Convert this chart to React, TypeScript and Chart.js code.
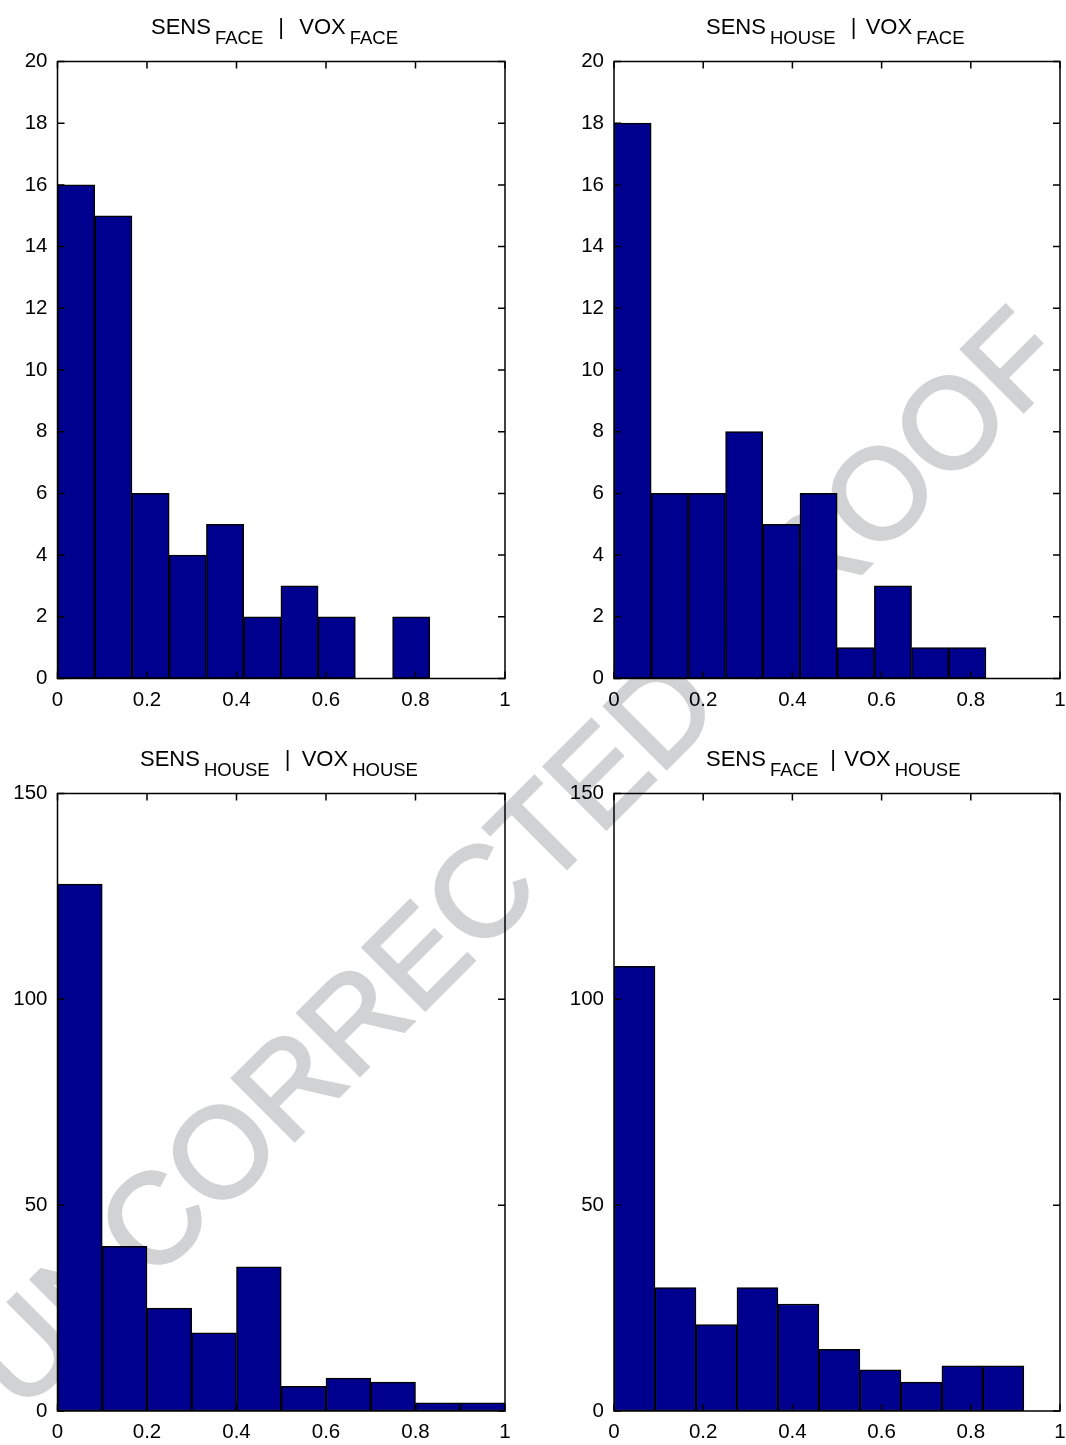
import React, { useEffect, useRef } from "react";
import { Chart, registerables } from "chart.js";

Chart.register(...registerables);

// ---------- data ----------
const faceFaceCounts = [16, 15, 6, 4, 5, 2, 3, 2, 0, 2];
const faceFaceBinWidth = 0.0832;
const houseFaceCounts = [18, 6, 6, 8, 5, 6, 1, 3, 1, 1];
const houseFaceBinWidth = 0.0834;
const houseHouseCounts = [128, 40, 25, 19, 35, 6, 8, 7, 2, 2];
const houseHouseBinWidth = 0.1;
const faceHouseCounts = [108, 30, 21, 30, 26, 15, 10, 7, 11, 11];
const faceHouseBinWidth = 0.0919;

const xTickValues = [0, 0.2, 0.4, 0.6, 0.8, 1];
const yTickValuesTop = [0, 2, 4, 6, 8, 10, 12, 14, 16, 18, 20];
const yTickValuesBottom = [0, 50, 100, 150];

const titleFaceFace = ["SENS", "FACE", "VOX", "FACE"];
const titleHouseFace = ["SENS", "HOUSE", "VOX", "FACE"];
const titleHouseHouse = ["SENS", "HOUSE", "VOX", "HOUSE"];
const titleFaceHouse = ["SENS", "FACE", "VOX", "HOUSE"];

const watermarkText = "UNCORRECTED PROOF";

// ---------- style ----------
const FONT = "'Liberation Sans', Arial, Helvetica, sans-serif";
const BAR_FILL = "#00008f";
const TICK_FONT_SIZE = 20.5;
const WATERMARK_COLOR = "#d1d2d4";

type Panel = {
  counts: number[];
  binWidth: number;
  yTicks: number[];
  title: string[];
  left: number;
  top: number;
  width: number;
  height: number;
  plotLeft: number;
  padRight: number;
  padTop: number;
  bottomH: number;
  titleStart: number;
  gapBar: number;
  gapVox: number;
};

const panels: Panel[] = [
  {
    counts: faceFaceCounts, binWidth: faceFaceBinWidth, yTicks: yTickValuesTop, title: titleFaceFace,
    left: 0, top: 0, width: 533, height: 722,
    plotLeft: 57.5, padRight: 28, padTop: 61.5, bottomH: 43.5,
    titleStart: 93.5, gapBar: 18, gapVox: 18,
  },
  {
    counts: houseFaceCounts, binWidth: houseFaceBinWidth, yTicks: yTickValuesTop, title: titleHouseFace,
    left: 533, top: 0, width: 543, height: 722,
    plotLeft: 81, padRight: 16, padTop: 61.5, bottomH: 43.5,
    titleStart: 92, gapBar: 18, gapVox: 12,
  },
  {
    counts: houseHouseCounts, binWidth: houseHouseBinWidth, yTicks: yTickValuesBottom, title: titleHouseHouse,
    left: 0, top: 722, width: 533, height: 723,
    plotLeft: 57.5, padRight: 28, padTop: 71.5, bottomH: 34,
    titleStart: 82.5, gapBar: 18, gapVox: 14,
  },
  {
    counts: faceHouseCounts, binWidth: faceHouseBinWidth, yTicks: yTickValuesBottom, title: titleFaceHouse,
    left: 533, top: 722, width: 543, height: 723,
    plotLeft: 81, padRight: 16, padTop: 71.5, bottomH: 34,
    titleStart: 92, gapBar: 15, gapVox: 11,
  },
];

function HistPanel({ p }: { p: Panel }) {
  const ref = useRef<HTMLCanvasElement | null>(null);
  useEffect(() => {
    if (!ref.current) return;
    const data = p.counts.map((c, i) => ({ x: (i + 0.5) * p.binWidth, y: c }));
    const framePlugin = {
      id: "frame",
      afterDatasetsDraw(chart: any) {
        const { ctx, chartArea: a, scales } = chart;
        const xs = scales.x;
        const ys = scales.y;
        ctx.save();
        ctx.strokeStyle = "#000";
        ctx.lineWidth = 1.5;
        ctx.strokeRect(a.left, a.top, a.right - a.left, a.bottom - a.top);
        const L = 7;
        ctx.beginPath();
        xs.ticks.forEach((t: any) => {
          const px = xs.getPixelForValue(t.value);
          ctx.moveTo(px, a.bottom);
          ctx.lineTo(px, a.bottom - L);
          ctx.moveTo(px, a.top);
          ctx.lineTo(px, a.top + L);
        });
        ys.ticks.forEach((t: any) => {
          const py = ys.getPixelForValue(t.value);
          ctx.moveTo(a.left, py);
          ctx.lineTo(a.left + L, py);
          ctx.moveTo(a.right, py);
          ctx.lineTo(a.right - L, py);
        });
        ctx.stroke();

        // title
        const base = a.top - 27.6;
        ctx.fillStyle = "#000";
        ctx.textBaseline = "alphabetic";
        ctx.textAlign = "left";
        let x = a.left + p.titleStart;
        ctx.font = `22px ${FONT}`;
        ctx.fillText(p.title[0], x, base);
        x += ctx.measureText(p.title[0]).width + 4;
        ctx.font = `18.5px ${FONT}`;
        ctx.fillText(p.title[1], x, base + 10);
        x += ctx.measureText(p.title[1]).width + p.gapBar;
        ctx.font = `22px ${FONT}`;
        ctx.textAlign = "center";
        ctx.fillText("|", x, base);
        x += p.gapVox;
        ctx.textAlign = "left";
        ctx.fillText(p.title[2], x, base);
        x += ctx.measureText(p.title[2]).width + 4;
        ctx.font = `18.5px ${FONT}`;
        ctx.fillText(p.title[3], x, base + 10);
        ctx.restore();
      },
    };

    const chart = new Chart(ref.current, {
      type: "bar",
      data: {
        datasets: [
          {
            data: data as any,
            backgroundColor: BAR_FILL,
            borderColor: "#000",
            borderWidth: 1.5,
            borderSkipped: false,
            barPercentage: 1,
            categoryPercentage: 1,
          },
        ],
      },
      options: {
        responsive: false,
        animation: false,
        devicePixelRatio: 1,
        layout: { padding: { top: p.padTop, right: p.padRight, left: 0, bottom: 0 } },
        plugins: { legend: { display: false }, tooltip: { enabled: false }, title: { display: false } },
        scales: {
          x: {
            type: "linear",
            offset: false,
            min: 0,
            max: 1,
            grid: { display: false, drawTicks: false, offset: false },
            border: { display: false },
            afterBuildTicks: (s: any) => {
              s.ticks = xTickValues.map((v) => ({ value: v }));
            },
            afterFit: (s: any) => {
              s.height = p.bottomH;
            },
            ticks: {
              autoSkip: false,
              maxRotation: 0,
              padding: 9.5,
              color: "#000",
              font: { family: FONT, size: TICK_FONT_SIZE },
              callback: (v: any) => String(v),
            },
          },
          y: {
            type: "linear",
            min: p.yTicks[0],
            max: p.yTicks[p.yTicks.length - 1],
            grid: { display: false, drawTicks: false },
            border: { display: false },
            afterBuildTicks: (s: any) => {
              s.ticks = p.yTicks.map((v) => ({ value: v }));
            },
            afterFit: (s: any) => {
              s.width = p.plotLeft;
            },
            ticks: {
              autoSkip: false,
              padding: 10,
              color: "#000",
              font: { family: FONT, size: TICK_FONT_SIZE },
              callback: (v: any) => String(v),
            },
          },
        },
      } as any,
      plugins: [framePlugin],
    });
    return () => chart.destroy();
  }, [p]);
  return (
    <canvas
      ref={ref}
      width={p.width}
      height={p.height}
      style={{ position: "absolute", left: p.left, top: p.top, width: p.width, height: p.height }}
    />
  );
}

export default function App() {
  return (
    <div
      style={{
        position: "absolute",
        left: 0,
        top: 0,
        width: 1066,
        height: 1445,
        overflow: "hidden",
        background: "#fff",
      }}
    >
      <div
        style={{
          position: "absolute",
          left: 515,
          top: 858,
          transform: "translate(-50%, -50%) rotate(-45deg)",
          fontFamily: FONT,
          fontSize: 128,
          fontWeight: 400,
          lineHeight: 1,
          color: WATERMARK_COLOR,
          WebkitTextStroke: `3px ${WATERMARK_COLOR}`,
          whiteSpace: "nowrap",
        } as any}
      >
        {watermarkText}
      </div>
      {panels.map((p, i) => (
        <HistPanel key={i} p={p} />
      ))}
    </div>
  );
}
